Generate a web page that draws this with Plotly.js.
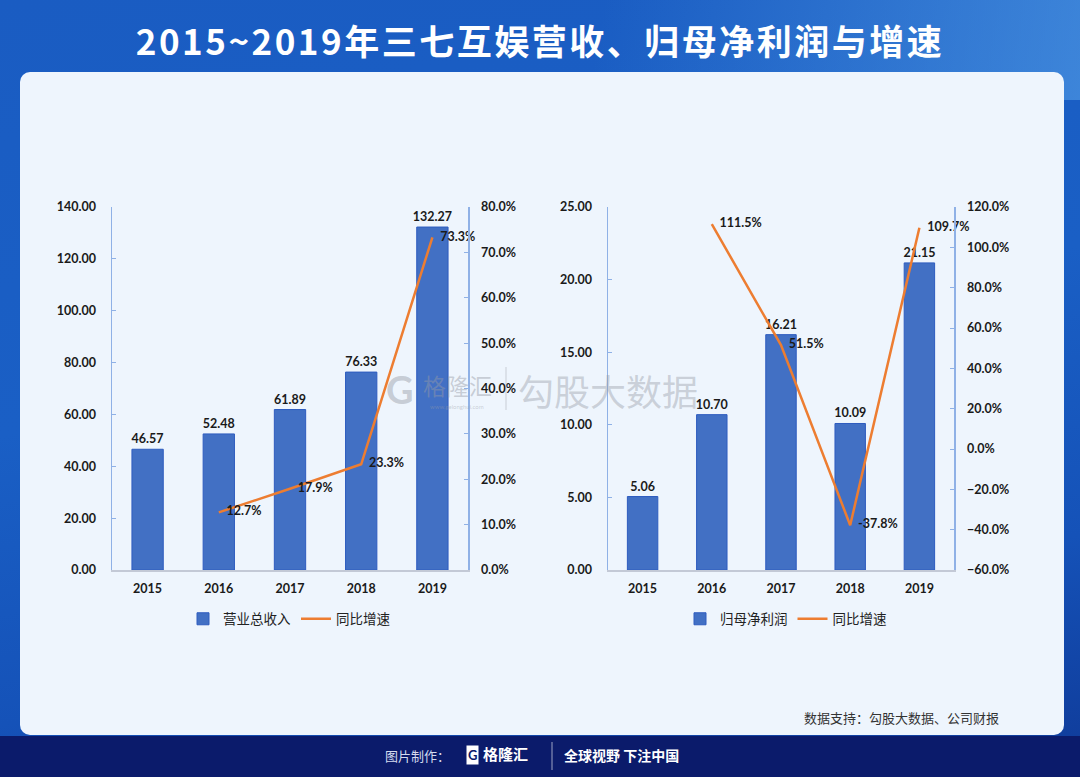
<!DOCTYPE html>
<html><head><meta charset="utf-8">
<script src="https://cdn.plot.ly/plotly-3.0.1.min.js"></script>
<style>
html,body{margin:0;padding:0;width:1080px;height:777px;overflow:hidden;}
#bg{position:absolute;left:0;top:0;width:1080px;height:777px;background:linear-gradient(170deg,#1a5cc2 0%,#1a5fc5 45%,#1552b8 75%,#0f3a98 100%);}
#hdr{position:absolute;left:0;top:0;width:1080px;height:100px;background:linear-gradient(100deg,rgba(255,255,255,0) 55%,rgba(90,165,235,0.55) 100%);}
#panel{position:absolute;left:20px;top:72px;width:1044px;height:663px;background:#eef5fd;border-radius:10px;}
#foot{position:absolute;left:0;top:736px;width:1080px;height:41px;background:#0b1b6b;}
#chart{position:absolute;left:0;top:0;width:1080px;height:777px;}
#chart .gtitle{letter-spacing:2.5px;}
</style></head>
<body>
<div id="bg"></div><div id="hdr"></div><div id="foot"></div><div id="panel"></div>
<div id="chart"></div>
<script>
// ---- data ----
const years = ['2015','2016','2017','2018','2019'];
const revenue = [46.57, 52.48, 61.89, 76.33, 132.27];
const revenueGrowth = [null, 12.7, 17.9, 23.3, 73.3];
const netProfit = [5.06, 10.70, 16.21, 10.09, 21.15];
const profitGrowth = [null, 111.5, 51.5, -37.8, 109.7];
const barName1 = '营业总收入';
const barName2 = '归母净利润';
const lineName = '同比增速';

// ---- styles ----
const W = 1080, H = 777;
const px = v => v / W;
const py = v => 1 - v / H;
const numFont = {family: 'Lato, "Liberation Sans", sans-serif', size: 12.5, color: '#1a1a1a', weight: 'bold'};
const cjk = '"Noto Sans CJK SC", "Noto Sans", sans-serif';
const barColor = '#4270c4', barLine = '#2e5cbf', lineColor = '#ed7d31';
const axisBlue = '#8fb1e6', axisGray = '#c3c9d6';
const wm = 'rgba(150,155,165,0.45)';

const traces = [
  {type: 'bar', x: years, y: revenue, name: barName1, xaxis: 'x', yaxis: 'y', legend: 'legend',
   marker: {color: barColor, line: {color: barLine, width: 1}},
   texttemplate: '%{y:.2f}', textposition: 'outside', textfont: numFont, cliponaxis: false, constraintext: 'none'},
  {type: 'scatter', mode: 'lines+text', x: years, y: revenueGrowth, name: lineName, xaxis: 'x', yaxis: 'y2', legend: 'legend',
   line: {color: lineColor, width: 2.5}, texttemplate: '\u2002\u2009%{y:.1f}%', textposition: 'middle right', textfont: numFont, cliponaxis: false},
  {type: 'bar', x: years, y: netProfit, name: barName2, xaxis: 'x2', yaxis: 'y3', legend: 'legend2',
   marker: {color: barColor, line: {color: barLine, width: 1}},
   texttemplate: '%{y:.2f}', textposition: 'outside', textfont: numFont, cliponaxis: false, constraintext: 'none'},
  {type: 'scatter', mode: 'lines+text', x: years, y: profitGrowth, name: lineName, xaxis: 'x2', yaxis: 'y4', legend: 'legend2',
   line: {color: lineColor, width: 2.5}, texttemplate: '\u2002\u2009%{y:.1f}%', textposition: 'middle right', textfont: numFont, cliponaxis: false}
];

const xCommon = {type: 'category', showline: true, linecolor: axisGray, linewidth: 1.5, ticks: '', tickfont: numFont, showgrid: false, zeroline: false, fixedrange: true, ticklabelstandoff: 6};
const yCommon = {showline: true, linecolor: axisBlue, linewidth: 1.5, ticks: 'inside', ticklen: 4, tickcolor: axisBlue, tickfont: numFont, showgrid: false, zeroline: false, fixedrange: true, ticklabelstandoff: 12};

const yTop = py(207), yBot = py(570);
const layout = {
  width: W, height: H, margin: {l: 0, r: 0, t: 0, b: 0},
  paper_bgcolor: 'rgba(0,0,0,0)', plot_bgcolor: 'rgba(0,0,0,0)',
  showlegend: true, bargap: 0.56,
  title: {text: '2015~2019年三七互娱营收、归母净利润与增速', x: 0.5, xanchor: 'center', y: 1 - 43 / H, yanchor: 'middle',
          font: {family: cjk, size: 35, color: '#ffffff', weight: 'bold'}},
  xaxis: Object.assign({}, xCommon, {domain: [px(112), px(468)], anchor: 'y'}),
  yaxis: Object.assign({}, yCommon, {domain: [yBot, yTop], anchor: 'x', range: [0, 140], dtick: 20, tickformat: '.2f'}),
  yaxis2: Object.assign({}, yCommon, {overlaying: 'y', side: 'right', anchor: 'x', range: [0, 80], dtick: 10, tickformat: '.1f', ticksuffix: '%', ticklabelstandoff: 9}),
  xaxis2: Object.assign({}, xCommon, {domain: [px(608), px(954)], anchor: 'y3'}),
  yaxis3: Object.assign({}, yCommon, {domain: [yBot, yTop], anchor: 'x2', range: [0, 25], dtick: 5, tickformat: '.2f'}),
  yaxis4: Object.assign({}, yCommon, {overlaying: 'y3', side: 'right', anchor: 'x2', range: [-60, 120], dtick: 20, tickformat: '.1f', ticksuffix: '%', ticklabelstandoff: 9}),
  legend: {orientation: 'h', x: px(289), xanchor: 'center', y: py(619), yanchor: 'middle', bgcolor: 'rgba(0,0,0,0)',
           font: {family: cjk, size: 13.5, color: '#222'}, itemwidth: 30, traceorder: 'normal'},
  legend2: {orientation: 'h', x: px(786), xanchor: 'center', y: py(619), yanchor: 'middle', bgcolor: 'rgba(0,0,0,0)',
           font: {family: cjk, size: 13.5, color: '#222'}, itemwidth: 30, traceorder: 'normal'},
  shapes: [
    {type: 'line', xref: 'paper', yref: 'paper', x0: px(506), x1: px(506), y0: py(367), y1: py(410), line: {color: wm, width: 1}},
    {type: 'line', xref: 'paper', yref: 'paper', x0: px(552), x1: px(552), y0: py(742), y1: py(770), line: {color: 'rgba(255,255,255,0.6)', width: 1}}
  ],
  annotations: [
    {xref: 'paper', yref: 'paper', x: px(457), y: py(385), text: '格隆汇', showarrow: false, xanchor: 'center', yanchor: 'middle',
     font: {family: cjk, size: 23, color: wm}},
    {xref: 'paper', yref: 'paper', x: px(400), y: py(389), text: 'G', showarrow: false, xanchor: 'center', yanchor: 'middle',
     font: {family: 'Lato, sans-serif', size: 38, color: wm, weight: 'bold'}},
    {xref: 'paper', yref: 'paper', x: px(457), y: py(406), text: 'www.gelonghui.com', showarrow: false, xanchor: 'center', yanchor: 'middle',
     font: {family: 'Lato, sans-serif', size: 6, color: wm}},
    {xref: 'paper', yref: 'paper', x: px(608), y: py(390), text: '勾股大数据', showarrow: false, xanchor: 'center', yanchor: 'middle',
     font: {family: cjk, size: 36, color: 'rgba(150,155,165,0.42)'}},
    {xref: 'paper', yref: 'paper', x: px(1001), y: py(717), text: '数据支持：勾股大数据、公司财报', showarrow: false, xanchor: 'right', yanchor: 'middle',
     font: {family: cjk, size: 13, color: '#333'}},
    {xref: 'paper', yref: 'paper', x: px(452), y: py(755), text: '图片制作：', showarrow: false, xanchor: 'right', yanchor: 'middle',
     font: {family: cjk, size: 13, color: '#d5dbef'}},
    {xref: 'paper', yref: 'paper', x: px(472), y: py(755), text: '<b>G</b>', showarrow: false, xanchor: 'center', yanchor: 'middle',
     bgcolor: '#ffffff', borderpad: 1, font: {family: 'Lato, sans-serif', size: 13, color: '#0b1b6b'}},
    {xref: 'paper', yref: 'paper', x: px(481), y: py(753), text: '格隆汇', showarrow: false, xanchor: 'left', yanchor: 'middle',
     font: {family: cjk, size: 15, color: '#ffffff', weight: 'bold'}},
    {xref: 'paper', yref: 'paper', x: px(562), y: py(755), text: '全球视野 下注中国', showarrow: false, xanchor: 'left', yanchor: 'middle',
     font: {family: cjk, size: 14, color: '#ffffff', weight: 'bold'}}
  ]
};

Plotly.newPlot('chart', traces, layout, {staticPlot: true, displayModeBar: false});
</script>
</body></html>
